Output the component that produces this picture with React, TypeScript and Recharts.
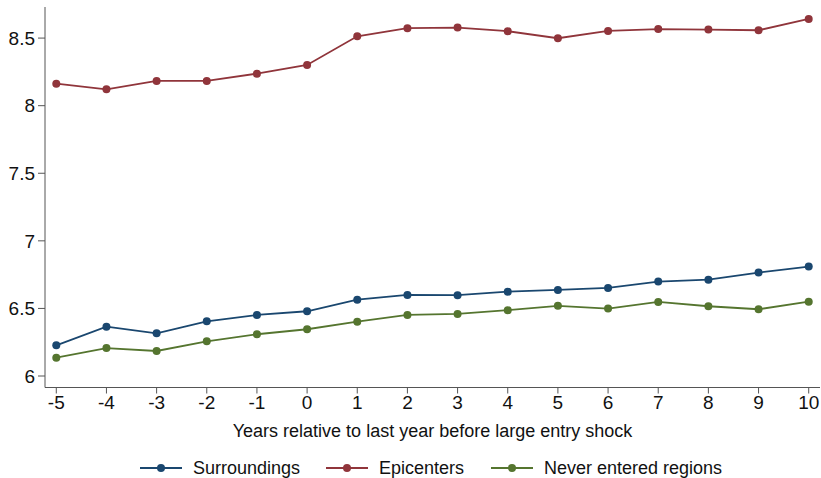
import { LineChart, Line, XAxis, YAxis } from 'recharts';

const FONT = '"Liberation Sans", Arial, sans-serif';
const AXIS_COLOR = '#555555';

const YEARS = [-5, -4, -3, -2, -1, 0, 1, 2, 3, 4, 5, 6, 7, 8, 9, 10];

const SURROUNDINGS = [
  6.227, 6.365, 6.316, 6.405, 6.452, 6.479, 6.565, 6.6, 6.598, 6.624, 6.637, 6.652, 6.699, 6.713, 6.765, 6.81,
];
const EPICENTERS = [
  8.163, 8.121, 8.183, 8.183, 8.237, 8.301, 8.513, 8.573, 8.578, 8.551, 8.499, 8.553, 8.567, 8.563, 8.558, 8.642,
];
const NEVER_ENTERED = [
  6.136, 6.207, 6.185, 6.257, 6.309, 6.346, 6.402, 6.452, 6.459, 6.487, 6.519, 6.499, 6.548, 6.516, 6.494, 6.55,
];

const Y_TICKS = [6, 6.5, 7, 7.5, 8, 8.5];

const SERIES = [
  { key: 'surroundings', name: 'Surroundings', color: '#1a476f' },
  { key: 'epicenters', name: 'Epicenters', color: '#90353b' },
  { key: 'never', name: 'Never entered regions', color: '#55752f' },
];

const data = YEARS.map((year, i) => ({
  year,
  surroundings: SURROUNDINGS[i],
  epicenters: EPICENTERS[i],
  never: NEVER_ENTERED[i],
}));

const LEGEND_POS = [140, 326, 491];

export default function App() {
  return (
    <div style={{ position: 'absolute', left: 0, top: 0, width: 821, height: 478, background: '#fff', fontFamily: FONT }}>
      <LineChart width={821} height={478} data={data} margin={{ top: 7, right: 1, bottom: 30.5, left: 0 }}>
        <XAxis
          dataKey="year"
          type="number"
          domain={[-5.225, 10.225]}
          ticks={YEARS}
          allowDataOverflow
          height={60}
          tickSize={6}
          tickMargin={2}
          stroke={AXIS_COLOR}
          tick={{ fill: '#111', fontSize: 19, fontFamily: FONT }}
          label={{
            value: 'Years relative to last year before large entry shock',
            position: 'insideBottom',
            offset: 11,
            fill: '#111',
            fontSize: 18,
            fontFamily: FONT,
          }}
        />
        <YAxis
          type="number"
          domain={[5.915, 8.73]}
          ticks={Y_TICKS}
          allowDataOverflow
          width={45}
          tickSize={7}
          tickMargin={3}
          stroke={AXIS_COLOR}
          tick={{ fill: '#111', fontSize: 19, fontFamily: FONT }}
        />
        {SERIES.map((s) => (
          <Line
            key={s.key}
            dataKey={s.key}
            name={s.name}
            stroke={s.color}
            strokeWidth={1.8}
            dot={{ r: 4, fill: s.color, stroke: s.color, strokeWidth: 0 }}
            isAnimationActive={false}
          />
        ))}
      </LineChart>
      {SERIES.map((s, i) => (
        <div
          key={`legend-${s.key}`}
          style={{ position: 'absolute', left: LEGEND_POS[i], top: 457, display: 'flex', alignItems: 'center', height: 22 }}
        >
          <svg width={42} height={22}>
            <line x1={0} y1={11} x2={42} y2={11} stroke={s.color} strokeWidth={1.8} />
            <circle cx={21} cy={11} r={4} fill={s.color} />
          </svg>
          <span style={{ marginLeft: 11, fontSize: 18, color: '#111', whiteSpace: 'nowrap' }}>{s.name}</span>
        </div>
      ))}
    </div>
  );
}
